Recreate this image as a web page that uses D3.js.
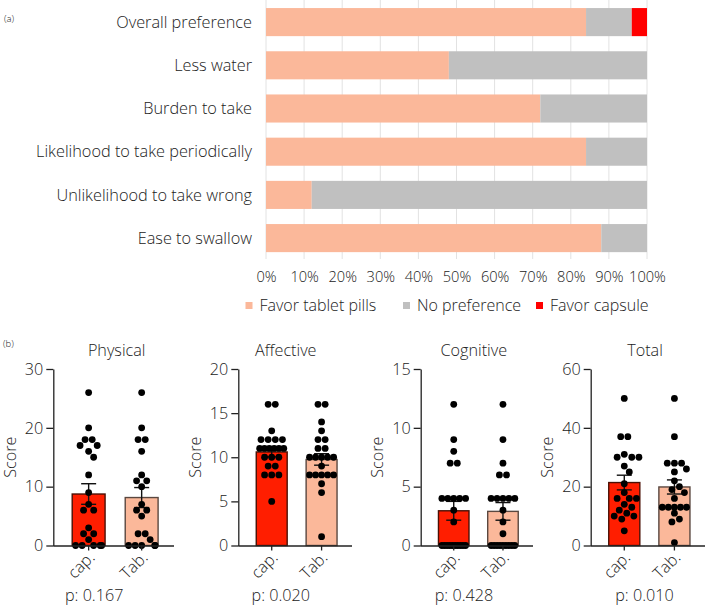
<!DOCTYPE html>
<html><head><meta charset="utf-8">
<script src="https://cdn.jsdelivr.net/npm/d3@7"></script>
<style>
body{margin:0;background:#fff}
text{font-family:"Open Sans",sans-serif;fill:#222;font-weight:300}
</style>
</head><body>
<svg id="c" width="709" height="606"></svg>
<script>
// ---------- Data: panel (a) ----------
const categories = ["Overall preference","Less water","Burden to take","Likelihood to take periodically","Unlikelihood to take wrong","Ease to swallow"];
const favorTablet  = [84, 48, 72, 84, 12, 88];
const noPreference = [12, 52, 28, 16, 88, 12];
const favorCapsule = [ 4,  0,  0,  0,  0,  0];
const seriesNames  = ["Favor tablet pills","No preference","Favor capsule"];
const pctTicks     = [0,10,20,30,40,50,60,70,80,90,100];

// ---------- Data: panel (b) ----------
const panelNames = ["Physical","Affective","Cognitive","Total"];
const groupNames = ["cap.","Tab."];
const pValues    = ["0.167","0.020","0.428","0.010"];
const yMaxes     = [30, 20, 15, 60];
const yTickVals  = [[0,10,20,30],[0,5,10,15,20],[0,5,10,15],[0,20,40,60]];
const capMean    = [8.75, 10.6, 2.95, 21.4];
const capSem     = [1.75, 0.55, 0.80, 2.5];
const tabMean    = [8.15, 9.75, 2.90, 19.9];
const tabSem     = [1.70, 0.65, 0.75, 2.4];
const physicalCap  = [26,20,18,18,17,17,16,15,12,9,7,6,6,3,2,2,1,0,0,0,0,0];
const physicalTab  = [26,20,18,18,16,12,11,11,10,7,6,6,5,2,2,1,0,0,0,0,0];
const affectiveCap = [16,16,13,12,12,12,12,11,11,11,11,11,11,10,10,10,9,9,8,8,8,5];
const affectiveTab = [16,16,14,13,12,12,11,11,10,10,10,10,10,9,8,8,8,8,8,7,6,1];
const cognitiveCap = [12,9,8,7,7,4,4,4,4,4,3,2,0,0,0,0,0,0,0,0,0,0];
const cognitiveTab = [12,9,7,6,6,4,4,4,4,4,3,2,1,0,0,0,0,0,0,0,0,0];
const totalCap     = [50,37,37,31,30,30,30,27,25,21,18,16,16,16,14,13,12,11,10,10,9,5];
const totalTab     = [50,37,28,28,28,26,25,22,20,19,18,16,13,13,13,13,13,11,9,8,1];

// ---------- Styles / layout ----------
const colTablet = "#FBB89A", colNone = "#C0C0C0", colCaps = "#FF0000";
const barColors = ["#FF1E00", "#FBB89A"];
const barStrokes = ["#4a1005", "#5a4840"];
const fsCat = "16.3px", fsTick = "14.6px", fsLeg = "16px", fsPanel = "16.2px";
const svg = d3.select("#c");

// ================= Panel (a) =================
const xA = d3.scaleLinear().domain([0,100]).range([266, 647]);
const yA = d3.scaleBand().domain(categories).range([0.5, 259.7]).paddingInner(0.35).paddingOuter(0.175);
const gA = svg.append("g");

gA.append("text").attr("x",4).attr("y",22).style("font-size","9.5px").text("(a)");

gA.append("g").selectAll("line").data(pctTicks).join("line")
  .attr("x1", d=>xA(d)).attr("x2", d=>xA(d))
  .attr("y1", 0).attr("y2", 259)
  .attr("stroke", "#e2e2e2").attr("stroke-width", 1);

const rowsA = categories.map((c,i)=>({cat:c, t:favorTablet[i], n:noPreference[i], c2:favorCapsule[i]}));
const stackA = d3.stack().keys(["t","n","c2"])(rowsA);
const colsA = [colTablet, colNone, colCaps];
gA.append("g").selectAll("g").data(stackA).join("g")
  .attr("fill", (d,i)=>colsA[i])
  .selectAll("rect").data(d=>d).join("rect")
  .attr("x", d=>xA(d[0])).attr("width", d=>Math.max(0, xA(d[1])-xA(d[0])))
  .attr("y", d=>yA(d.data.cat)).attr("height", yA.bandwidth());

gA.append("g").selectAll("text").data(categories).join("text")
  .attr("x", 252).attr("y", d=>yA(d)+yA.bandwidth()/2).attr("dy","0.35em")
  .attr("text-anchor","end").style("font-size",fsCat).text(d=>d);

const axA = d3.axisBottom(xA).tickValues(pctTicks).tickFormat(d=>d+"%").tickSize(0).tickPadding(0);
const axAg = gA.append("g").attr("transform","translate(0,272)").call(axA);
axAg.select(".domain").remove();
axAg.selectAll("text").style("font-size",fsTick).style("font-family","'Open Sans',sans-serif").style("font-weight","300").attr("fill","#222");

const legX = [245.5, 403, 536];
const lg = gA.append("g").selectAll("g").data(seriesNames).join("g")
  .attr("transform",(d,i)=>`translate(${legX[i]},302)`);
lg.append("rect").attr("width",7).attr("height",7).attr("fill",(d,i)=>colsA[i]);
lg.append("text").attr("x",14).attr("y",3.5).attr("dy","0.36em").style("font-size",fsLeg).text(d=>d);

// ================= Panel (b) =================
svg.append("text").attr("x",3).attr("y",347).style("font-size","9.5px").text("(b)");

const allCap = [physicalCap, affectiveCap, cognitiveCap, totalCap];
const allTab = [physicalTab, affectiveTab, cognitiveTab, totalTab];
const axisXs   = [53.3, 238.3, 420.7, 590.7];
const rangeEnd = [174, 352, 533, 705];
const titleX   = [116.7, 285.8, 473.8, 645];
const pX       = [94.2, 280.8, 464, 644.5];
const y0 = 545.5, yTop = 369;
const R = 3.4;

function swarm(values, y, halfW) {
  const sorted = values.slice().sort((a,b)=>b-a);
  const grouped = d3.groups(sorted, v=>v);
  const placed = [];
  const thr = 2*R*1.12;
  for (const [v, arr] of grouped) {
    const k = arr.length;
    const sp = k>1 ? Math.min(2*R*1.05, 2*(halfW - R)/(k-1)) : 0;
    const py = y(v);
    const mine = [];
    for (let i=0;i<k;i++){
      const ideal = (i-(k-1)/2)*sp;
      const dir = ideal >= 0 ? 1 : -1;
      let best = ideal, found = false;
      for (let s=0; s<=14 && !found; s+=0.5) {
        const cands = s===0 ? [ideal] : [ideal+dir*s, ideal-dir*s];
        for (const c of cands) {
          if (Math.abs(c) > halfW) continue;
          const ok = placed.every(p => (p.x-c)**2 + (p.y-py)**2 >= thr*thr) &&
                     mine.every(p => Math.abs(p.x-c) >= sp*0.95);
          if (ok) { best = c; found = true; break; }
        }
      }
      mine.push({x:best, y:py, v});
    }
    placed.push(...mine);
  }
  return placed;
}

panelNames.forEach((name, pi) => {
  const g = svg.append("g");
  const ax = axisXs[pi];
  const y = d3.scaleLinear().domain([0, yMaxes[pi]]).range([y0, yTop]);
  const x = d3.scaleBand().domain(groupNames).range([ax+3, rangeEnd[pi]]).paddingInner(0.38).paddingOuter(0.3);
  const bw = x.bandwidth();
  const means = [capMean[pi], tabMean[pi]];
  const sems = [capSem[pi], tabSem[pi]];
  const pts = [allCap[pi], allTab[pi]];

  g.selectAll("rect.bar").data(groupNames).join("rect").attr("class","bar")
    .attr("x", d=>x(d)).attr("width", bw)
    .attr("y", (d,i)=>y(means[i])).attr("height", (d,i)=>y0 - y(means[i]))
    .attr("fill", (d,i)=>barColors[i]).attr("stroke",(d,i)=>barStrokes[i]).attr("stroke-width",1.4);

  groupNames.forEach((gn, gi) => {
    const cx = x(gn) + bw/2;
    const eg = g.append("g").attr("stroke","#111").attr("stroke-width",1.4);
    eg.append("line").attr("x1",cx).attr("x2",cx).attr("y1",y(means[gi]-sems[gi])).attr("y2",y(means[gi]+sems[gi]));
    [means[gi]-sems[gi], means[gi]+sems[gi]].forEach(v=>{
      eg.append("line").attr("x1",cx-7.5).attr("x2",cx+7.5).attr("y1",y(v)).attr("y2",y(v));
    });
  });

  groupNames.forEach((gn, gi) => {
    const cx = x(gn) + bw/2;
    const sw = swarm(pts[gi], y, bw/2);
    g.append("g").selectAll("circle").data(sw).join("circle")
      .attr("cx", d=>cx+d.x).attr("cy", d=>d.y).attr("r", R).attr("fill","#000");
  });

  const yAx = d3.axisLeft(y).tickValues(yTickVals[pi]).tickSize(7).tickPadding(3).tickSizeOuter(0);
  const yg = g.append("g").attr("transform",`translate(${ax},0)`).call(yAx);
  yg.selectAll("text").style("font-size",fsPanel).style("font-family","'Open Sans',sans-serif").style("font-weight","300").attr("fill","#222");
  yg.selectAll("line,path").attr("stroke","#222").attr("stroke-width",1.3);

  const xAx = d3.axisBottom(x).tickSize(5).tickSizeOuter(0);
  const xg = g.append("g").attr("transform",`translate(0,${y0})`).call(xAx);
  xg.select(".domain").attr("d", `M${ax},0.5H${rangeEnd[pi]}`);
  xg.selectAll("line,path").attr("stroke","#222").attr("stroke-width",1.3);
  xg.selectAll("text")
    .attr("x",0).attr("y",0).attr("dy","0.35em")
    .attr("transform","translate(3,9) rotate(-45)")
    .attr("text-anchor","end")
    .style("font-size",fsPanel).style("font-family","'Open Sans',sans-serif").style("font-weight","300").attr("fill","#222");

  g.append("text").attr("transform",`translate(${ax-37.5},${(y0+yTop)/2}) rotate(-90)`)
    .attr("text-anchor","middle").style("font-size",fsPanel).text("Score");

  g.append("text").attr("x", titleX[pi]).attr("y", 356).attr("text-anchor","middle")
    .style("font-size",fsPanel).text(name);

  g.append("text").attr("x", pX[pi]).attr("y", 601).attr("text-anchor","middle")
    .style("font-size",fsPanel).text("p: " + pValues[pi]);
});
</script>
</body></html>
